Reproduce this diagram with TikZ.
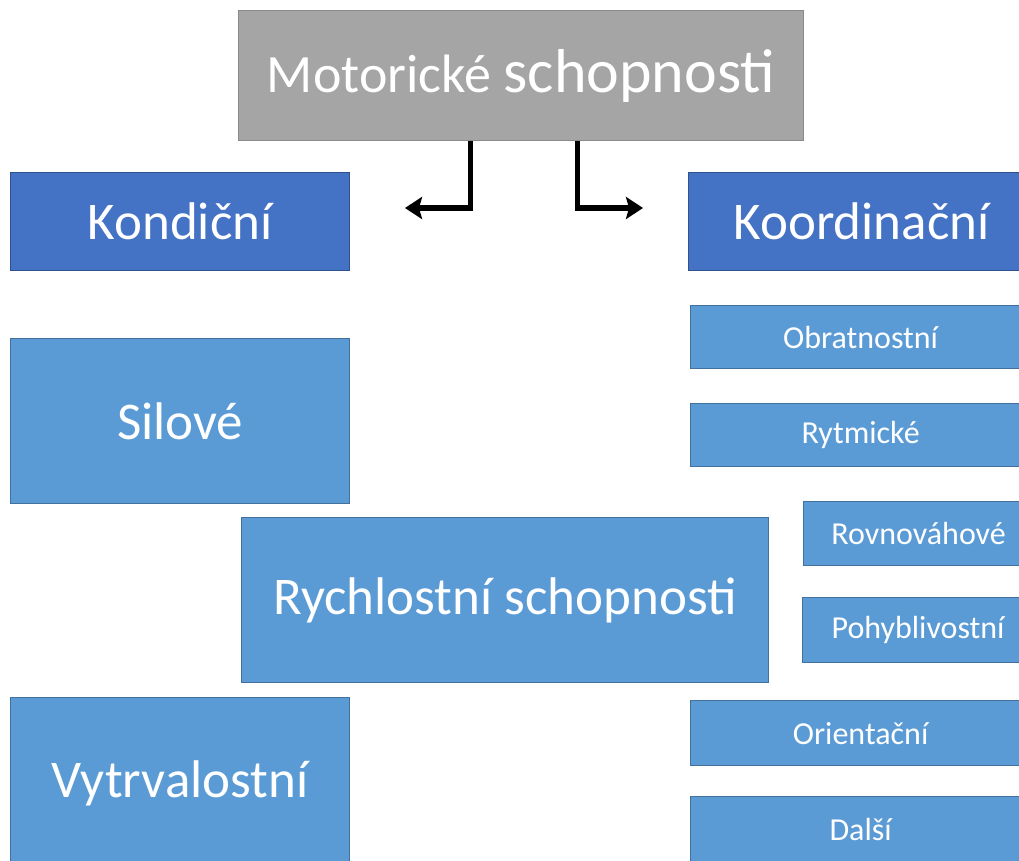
\documentclass[tikz,border=0pt]{standalone}
\usepackage{fontspec}
\setmainfont{Carlito}
\usetikzlibrary{arrows.meta}
\definecolor{grayfill}{HTML}{A5A5A5}
\definecolor{grayline}{HTML}{8A8A8A}
\definecolor{darkfill}{HTML}{4472C4}
\definecolor{darkline}{HTML}{2F528F}
\definecolor{lightfill}{HTML}{5B9BD5}
\definecolor{lightline}{HTML}{41719C}
\tikzset{
  px/.style={x=1pt,y=-1pt},
  box/.style={draw, line width=1.2pt, text=white, inner sep=0pt, anchor=north west},
  graybox/.style={box, fill=grayfill, draw=grayline},
  darkbox/.style={box, fill=darkfill, draw=darkline, font=\fontsize{53}{60}\selectfont},
  bigbox/.style={box, fill=lightfill, draw=lightline, font=\fontsize{53}{60}\selectfont},
  smallbox/.style={box, fill=lightfill, draw=lightline, font=\fontsize{32}{38}\selectfont},
  arr/.style={draw=black, line width=5.5pt, -{Stealth[length=17pt,width=22pt,inset=3pt]}}
}
\begin{document}
\begin{tikzpicture}[px]
\useasboundingbox (0,0) rectangle (1019,860);
\clip (0,0) rectangle (1019,860);
\fill[white] (0,0) rectangle (1019,860);
\node[graybox, minimum width=565pt, minimum height=130pt] (top) at (238,10)
  {\fontsize{54}{60}\selectfont Motorické \fontsize{62}{70}\selectfont schopnosti};
\node[darkbox, minimum width=339pt, minimum height=98pt] (kond) at (10,172) {Kondiční};
\node[darkbox, minimum width=346pt, minimum height=98pt] (koord) at (688,172) {Koordinační};
\node[bigbox, minimum width=339pt, minimum height=165pt] (sil) at (10,338) {Silové};
\node[bigbox, minimum width=527pt, minimum height=165pt] (rych) at (241,517) {Rychlostní schopnosti};
\node[bigbox, minimum width=339pt, minimum height=172pt] (vytr) at (10,697) {Vytrvalostní};
\node[smallbox, minimum width=340pt, minimum height=63pt] (obr) at (690,305) {Obratnostní};
\node[smallbox, minimum width=340pt, minimum height=63pt] (ryt) at (690,403) {Rytmické};
\node[smallbox, minimum width=230pt, minimum height=64pt] (rov) at (803,501) {Rovnováhové};
\node[smallbox, minimum width=231pt, minimum height=65pt] (poh) at (802,597) {Pohyblivostní};
\node[smallbox, minimum width=340pt, minimum height=65pt] (ori) at (690,700) {Orientační};
\node[smallbox, minimum width=340pt, minimum height=66pt] (dal) at (690,796) {Další};
\coordinate (aL) at (405,208);
\coordinate (aR) at (643,208);
\draw[arr] ([xshift=-50.5pt]top.south) |- (aL);
\draw[arr] ([xshift=56.5pt]top.south) |- (aR);
\end{tikzpicture}
\end{document}
